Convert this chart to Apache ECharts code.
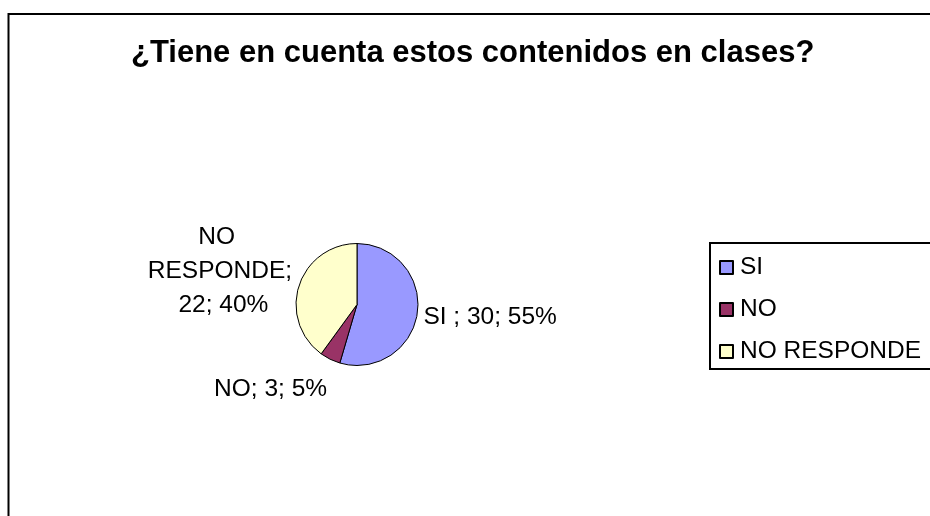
<!DOCTYPE html>
<html>
<head>
<meta charset="utf-8">
<script src="https://cdn.jsdelivr.net/npm/echarts@6/dist/echarts.min.js"></script>
<style>
  html, body { margin: 0; padding: 0; background: #fff; }
  #chart { width: 930px; height: 516px; }
</style>
</head>
<body>
<div id="chart"></div>
<script>
// datos de la encuesta
const categorias = ['SI ', 'NO', 'NO RESPONDE']
const valores = [30, 3, 22]
const colores = ['#9999ff', '#993366', '#ffffcc']

const fuente = "'Liberation Sans', Arial, sans-serif"

// ajuste fino de etiquetas (desplazamiento respecto a la posicion por defecto)
const ajusteEtiqueta = [
  { dx: 1, dy: 4 },
  { dx: 2, dy: 30 },
  { dx: -74, dy: -14, align: 'center' }
]

const chart = echarts.init(document.getElementById('chart'))

const datos = categorias.map((nombre, i) => {
  const item = { name: nombre, value: valores[i], itemStyle: { color: colores[i] } }
  if (i === 2) {
    item.label = { width: 150, overflow: 'break' }
  }
  return item
})

const option = {
  animation: false,
  title: {
    text: '¿Tiene en cuenta estos contenidos en clases?',
    left: 131,
    top: 38,
    padding: 0,
    textStyle: { fontFamily: fuente, fontSize: 31, fontWeight: 'bold', color: '#000' }
  },
  legend: {
    orient: 'vertical',
    left: 710,
    top: 243,
    padding: [12, 14, 5, 9],
    itemGap: 17,
    itemWidth: 13,
    itemHeight: 13,
    icon: 'rect',
    borderColor: '#000',
    borderWidth: 2,
    backgroundColor: '#fff',
    data: categorias,
    formatter: n => n.trim(),
    textStyle: { fontFamily: fuente, fontSize: 24.5, color: '#000', padding: [0, 0, 0, 2] }
  },
  graphic: [
    {
      type: 'rect',
      shape: { x: 8.5, y: 14, width: 1000, height: 600 },
      style: { fill: 'none', stroke: '#000', lineWidth: 2 },
      silent: true,
      z: -1
    }
  ],
  series: [
    {
      type: 'pie',
      center: [357, 304.5],
      radius: 61,
      startAngle: 90,
      clockwise: true,
      percentPrecision: 0,
      avoidLabelOverlap: false,
      silent: true,
      itemStyle: { borderColor: '#000', borderWidth: 1 },
      label: {
        position: 'outside',
        formatter: '{b}; {c}; {d}%',
        fontFamily: fuente,
        fontSize: 24.5,
        lineHeight: 34,
        color: '#000'
      },
      labelLine: { show: false, length: 0, length2: 0 },
      labelLayout: params => ajusteEtiqueta[params.dataIndex],
      data: datos
    }
  ]
}

chart.setOption(option)
</script>
</body>
</html>
